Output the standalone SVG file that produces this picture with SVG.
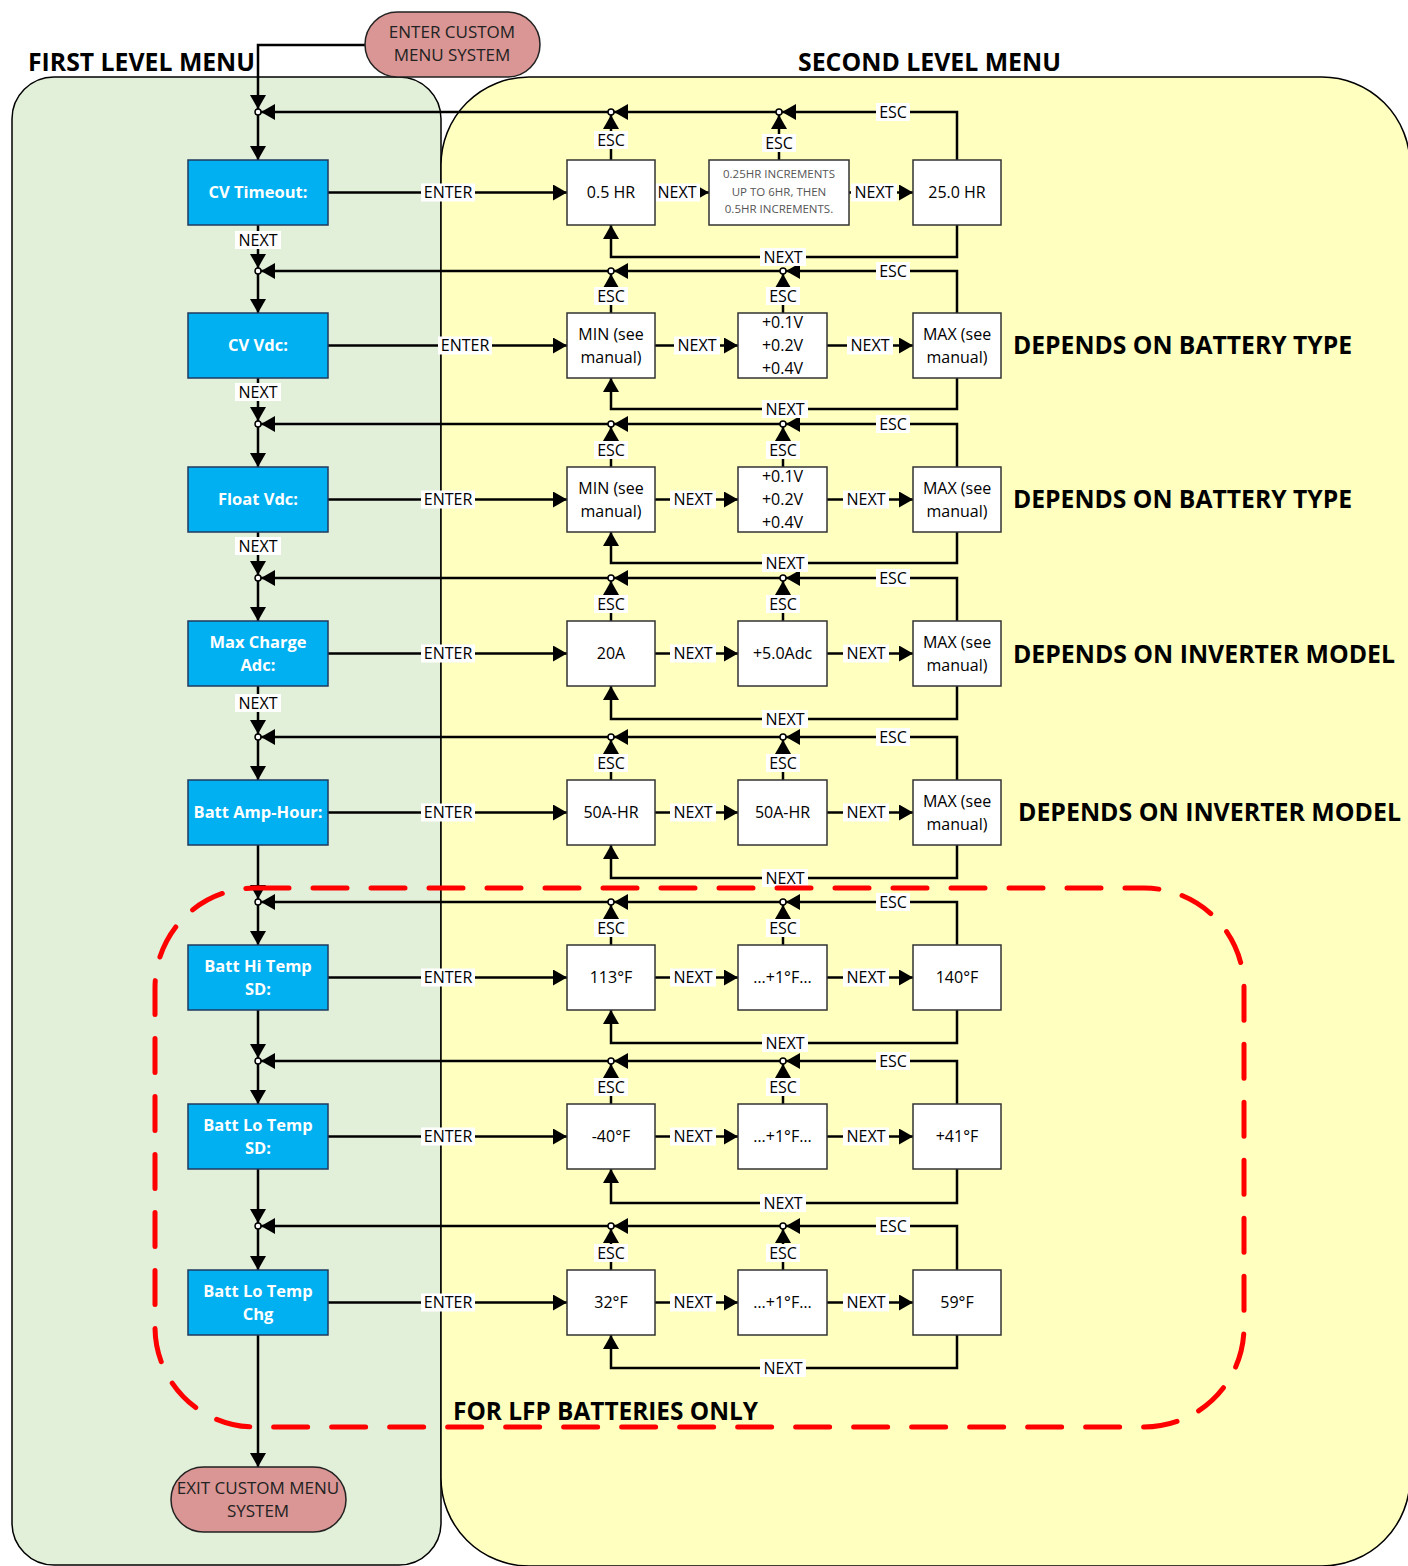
<svg xmlns="http://www.w3.org/2000/svg" width="1408" height="1566" viewBox="0 0 1408 1566">
<defs>
<marker id="ah" viewBox="0 0 14 16" refX="14" refY="8" markerWidth="14" markerHeight="16" markerUnits="userSpaceOnUse" orient="auto"><path d="M0,0 L14,8 L0,16 z" fill="#000"/></marker>
<style>
text{font-family:"Open Sans","Liberation Sans",sans-serif}
.title{font-weight:bold;font-size:25px;fill:#000}
.blue rect{fill:#00b0f0;stroke:#1f3a5f;stroke-width:1.5}
.blue text{font-weight:bold;font-size:16.5px;fill:#fff;text-anchor:middle}
.box rect{fill:#fff;stroke:#333;stroke-width:1.5}
.box text{font-size:16px;fill:#000;text-anchor:middle}
.box text.sm{font-size:11.5px;fill:#555}
.pill rect{fill:#d99694;stroke:#222;stroke-width:1.5}
.pill text{font-size:17px;fill:#222;text-anchor:middle}
.ln{fill:none;stroke:#000;stroke-width:2.5;marker-end:url(#ah)}
.jn{fill:#fff;stroke:#000;stroke-width:1.5}
.lb rect{fill:#fff}
.lb text{font-size:16px;text-anchor:middle;fill:#000}
</style>
</defs>
<rect width="1408" height="1566" fill="#fff"/>
<g id="panels">
<rect x="12" y="77" width="429" height="1488" rx="42" fill="#e2efd9" stroke="#000" stroke-width="1.5"/>
<rect x="441" y="77" width="969" height="1489" rx="88" fill="#ffffbf" stroke="#000" stroke-width="1.5"/>
</g>
<g id="titles">
<text class="title" x="28" y="71" textLength="227" lengthAdjust="spacingAndGlyphs">FIRST LEVEL MENU</text>
<text class="title" x="798" y="71" textLength="263" lengthAdjust="spacingAndGlyphs">SECOND LEVEL MENU</text>
<text class="title" x="1013" y="354" textLength="339" lengthAdjust="spacingAndGlyphs">DEPENDS ON BATTERY TYPE</text>
<text class="title" x="1013" y="508" textLength="339" lengthAdjust="spacingAndGlyphs">DEPENDS ON BATTERY TYPE</text>
<text class="title" x="1013" y="663" textLength="382" lengthAdjust="spacingAndGlyphs">DEPENDS ON INVERTER MODEL</text>
<text class="title" x="1018" y="821" textLength="383" lengthAdjust="spacingAndGlyphs">DEPENDS ON INVERTER MODEL</text>
<text class="title" x="453" y="1420" textLength="305" lengthAdjust="spacingAndGlyphs">FOR LFP BATTERIES ONLY</text>
</g>
<g id="connectors">
<path class="ln" d="M365,45 H258 V109"/>
<!-- row 1 -->
<path class="ln" d="M258,115 V160"/>
<path class="ln" d="M328,192.5 H567"/>
<path class="ln" d="M655,192.5 H709"/>
<path class="ln" d="M849,192.5 H913"/>
<path class="ln" d="M611,160 V115"/>
<path class="ln" d="M779,160 V115"/>
<path class="ln" d="M957,160 V112 H782"/>
<path class="ln" d="M776,112 H614"/>
<path class="ln" d="M608,112 H261"/>
<path class="ln" d="M957,225 V257 H611 V225"/>
<path class="ln" d="M258,225 V268"/>
<!-- row 2 -->
<path class="ln" d="M258,274 V313"/>
<path class="ln" d="M328,345.5 H567"/>
<path class="ln" d="M655,345.5 H738"/>
<path class="ln" d="M827,345.5 H913"/>
<path class="ln" d="M611,313 V274"/>
<path class="ln" d="M783,313 V274"/>
<path class="ln" d="M957,313 V271 H786"/>
<path class="ln" d="M780,271 H614"/>
<path class="ln" d="M608,271 H261"/>
<path class="ln" d="M957,378 V409 H611 V378"/>
<path class="ln" d="M258,378 V421"/>
<!-- row 3 -->
<path class="ln" d="M258,427 V467"/>
<path class="ln" d="M328,499.5 H567"/>
<path class="ln" d="M655,499.5 H738"/>
<path class="ln" d="M827,499.5 H913"/>
<path class="ln" d="M611,467 V427"/>
<path class="ln" d="M783,467 V427"/>
<path class="ln" d="M957,467 V424 H786"/>
<path class="ln" d="M780,424 H614"/>
<path class="ln" d="M608,424 H261"/>
<path class="ln" d="M957,532 V563 H611 V532"/>
<path class="ln" d="M258,532 V575"/>
<!-- row 4 -->
<path class="ln" d="M258,581 V621"/>
<path class="ln" d="M328,653.5 H567"/>
<path class="ln" d="M655,653.5 H738"/>
<path class="ln" d="M827,653.5 H913"/>
<path class="ln" d="M611,621 V581"/>
<path class="ln" d="M783,621 V581"/>
<path class="ln" d="M957,621 V578 H786"/>
<path class="ln" d="M780,578 H614"/>
<path class="ln" d="M608,578 H261"/>
<path class="ln" d="M957,686 V719 H611 V686"/>
<path class="ln" d="M258,686 V734"/>
<!-- row 5 -->
<path class="ln" d="M258,740 V780"/>
<path class="ln" d="M328,812.5 H567"/>
<path class="ln" d="M655,812.5 H738"/>
<path class="ln" d="M827,812.5 H913"/>
<path class="ln" d="M611,780 V740"/>
<path class="ln" d="M783,780 V740"/>
<path class="ln" d="M957,780 V737 H786"/>
<path class="ln" d="M780,737 H614"/>
<path class="ln" d="M608,737 H261"/>
<path class="ln" d="M957,845 V878 H611 V845"/>
<path class="ln" d="M258,845 V899"/>
<!-- row 6 -->
<path class="ln" d="M258,905 V945"/>
<path class="ln" d="M328,977.5 H567"/>
<path class="ln" d="M655,977.5 H738"/>
<path class="ln" d="M827,977.5 H913"/>
<path class="ln" d="M611,945 V905"/>
<path class="ln" d="M783,945 V905"/>
<path class="ln" d="M957,945 V902 H786"/>
<path class="ln" d="M780,902 H614"/>
<path class="ln" d="M608,902 H261"/>
<path class="ln" d="M957,1010 V1043 H611 V1010"/>
<path class="ln" d="M258,1010 V1058"/>
<!-- row 7 -->
<path class="ln" d="M258,1064 V1104"/>
<path class="ln" d="M328,1136.5 H567"/>
<path class="ln" d="M655,1136.5 H738"/>
<path class="ln" d="M827,1136.5 H913"/>
<path class="ln" d="M611,1104 V1064"/>
<path class="ln" d="M783,1104 V1064"/>
<path class="ln" d="M957,1104 V1061 H786"/>
<path class="ln" d="M780,1061 H614"/>
<path class="ln" d="M608,1061 H261"/>
<path class="ln" d="M957,1169 V1203 H611 V1169"/>
<path class="ln" d="M258,1169 V1223"/>
<!-- row 8 -->
<path class="ln" d="M258,1229 V1270"/>
<path class="ln" d="M328,1302.5 H567"/>
<path class="ln" d="M655,1302.5 H738"/>
<path class="ln" d="M827,1302.5 H913"/>
<path class="ln" d="M611,1270 V1229"/>
<path class="ln" d="M783,1270 V1229"/>
<path class="ln" d="M957,1270 V1226 H786"/>
<path class="ln" d="M780,1226 H614"/>
<path class="ln" d="M608,1226 H261"/>
<path class="ln" d="M957,1335 V1368 H611 V1335"/>
<path class="ln" d="M258,1335 V1467"/>
<!-- junctions -->
<circle class="jn" cx="258" cy="112" r="3"/><circle class="jn" cx="611" cy="112" r="3"/><circle class="jn" cx="779" cy="112" r="3"/>
<circle class="jn" cx="258" cy="271" r="3"/><circle class="jn" cx="611" cy="271" r="3"/><circle class="jn" cx="783" cy="271" r="3"/>
<circle class="jn" cx="258" cy="424" r="3"/><circle class="jn" cx="611" cy="424" r="3"/><circle class="jn" cx="783" cy="424" r="3"/>
<circle class="jn" cx="258" cy="578" r="3"/><circle class="jn" cx="611" cy="578" r="3"/><circle class="jn" cx="783" cy="578" r="3"/>
<circle class="jn" cx="258" cy="737" r="3"/><circle class="jn" cx="611" cy="737" r="3"/><circle class="jn" cx="783" cy="737" r="3"/>
<circle class="jn" cx="258" cy="902" r="3"/><circle class="jn" cx="611" cy="902" r="3"/><circle class="jn" cx="783" cy="902" r="3"/>
<circle class="jn" cx="258" cy="1061" r="3"/><circle class="jn" cx="611" cy="1061" r="3"/><circle class="jn" cx="783" cy="1061" r="3"/>
<circle class="jn" cx="258" cy="1226" r="3"/><circle class="jn" cx="611" cy="1226" r="3"/><circle class="jn" cx="783" cy="1226" r="3"/>
<!-- labels -->
<g class="lb">
<rect x="421" y="183.5" width="54" height="18"/><text x="448" y="198">ENTER</text>
<rect x="654" y="183.5" width="46" height="18"/><text x="677" y="198">NEXT</text>
<rect x="851" y="183.5" width="46" height="18"/><text x="874" y="198">NEXT</text>
<rect x="876" y="103" width="34" height="18"/><text x="893" y="117.5">ESC</text>
<rect x="594" y="131" width="34" height="18"/><text x="611" y="145.5">ESC</text>
<rect x="762" y="134" width="34" height="18"/><text x="779" y="148.5">ESC</text>
<rect x="760" y="248" width="46" height="18"/><text x="783" y="262.5">NEXT</text>
<rect x="235" y="231" width="46" height="18"/><text x="258" y="245.5">NEXT</text>

<rect x="438" y="336.5" width="54" height="18"/><text x="465" y="351">ENTER</text>
<rect x="674" y="336.5" width="46" height="18"/><text x="697" y="351">NEXT</text>
<rect x="847" y="336.5" width="46" height="18"/><text x="870" y="351">NEXT</text>
<rect x="876" y="262" width="34" height="18"/><text x="893" y="276.5">ESC</text>
<rect x="594" y="287" width="34" height="18"/><text x="611" y="301.5">ESC</text>
<rect x="766" y="287" width="34" height="18"/><text x="783" y="301.5">ESC</text>
<rect x="762" y="400" width="46" height="18"/><text x="785" y="414.5">NEXT</text>
<rect x="235" y="383" width="46" height="18"/><text x="258" y="397.5">NEXT</text>

<rect x="421" y="490.5" width="54" height="18"/><text x="448" y="505">ENTER</text>
<rect x="670" y="490.5" width="46" height="18"/><text x="693" y="505">NEXT</text>
<rect x="843" y="490.5" width="46" height="18"/><text x="866" y="505">NEXT</text>
<rect x="876" y="415" width="34" height="18"/><text x="893" y="429.5">ESC</text>
<rect x="594" y="441" width="34" height="18"/><text x="611" y="455.5">ESC</text>
<rect x="766" y="441" width="34" height="18"/><text x="783" y="455.5">ESC</text>
<rect x="762" y="554" width="46" height="18"/><text x="785" y="568.5">NEXT</text>
<rect x="235" y="537" width="46" height="18"/><text x="258" y="551.5">NEXT</text>

<rect x="421" y="644.5" width="54" height="18"/><text x="448" y="659">ENTER</text>
<rect x="670" y="644.5" width="46" height="18"/><text x="693" y="659">NEXT</text>
<rect x="843" y="644.5" width="46" height="18"/><text x="866" y="659">NEXT</text>
<rect x="876" y="569" width="34" height="18"/><text x="893" y="583.5">ESC</text>
<rect x="594" y="595" width="34" height="18"/><text x="611" y="609.5">ESC</text>
<rect x="766" y="595" width="34" height="18"/><text x="783" y="609.5">ESC</text>
<rect x="762" y="710" width="46" height="18"/><text x="785" y="724.5">NEXT</text>
<rect x="235" y="694" width="46" height="18"/><text x="258" y="708.5">NEXT</text>

<rect x="421" y="803.5" width="54" height="18"/><text x="448" y="818">ENTER</text>
<rect x="670" y="803.5" width="46" height="18"/><text x="693" y="818">NEXT</text>
<rect x="843" y="803.5" width="46" height="18"/><text x="866" y="818">NEXT</text>
<rect x="876" y="728" width="34" height="18"/><text x="893" y="742.5">ESC</text>
<rect x="594" y="754" width="34" height="18"/><text x="611" y="768.5">ESC</text>
<rect x="766" y="754" width="34" height="18"/><text x="783" y="768.5">ESC</text>
<rect x="762" y="869" width="46" height="18"/><text x="785" y="883.5">NEXT</text>

<rect x="421" y="968.5" width="54" height="18"/><text x="448" y="983">ENTER</text>
<rect x="670" y="968.5" width="46" height="18"/><text x="693" y="983">NEXT</text>
<rect x="843" y="968.5" width="46" height="18"/><text x="866" y="983">NEXT</text>
<rect x="876" y="893" width="34" height="18"/><text x="893" y="907.5">ESC</text>
<rect x="594" y="919" width="34" height="18"/><text x="611" y="933.5">ESC</text>
<rect x="766" y="919" width="34" height="18"/><text x="783" y="933.5">ESC</text>
<rect x="762" y="1034" width="46" height="18"/><text x="785" y="1048.5">NEXT</text>

<rect x="421" y="1127.5" width="54" height="18"/><text x="448" y="1142">ENTER</text>
<rect x="670" y="1127.5" width="46" height="18"/><text x="693" y="1142">NEXT</text>
<rect x="843" y="1127.5" width="46" height="18"/><text x="866" y="1142">NEXT</text>
<rect x="876" y="1052" width="34" height="18"/><text x="893" y="1066.5">ESC</text>
<rect x="594" y="1078" width="34" height="18"/><text x="611" y="1092.5">ESC</text>
<rect x="766" y="1078" width="34" height="18"/><text x="783" y="1092.5">ESC</text>
<rect x="760" y="1194" width="46" height="18"/><text x="783" y="1208.5">NEXT</text>

<rect x="421" y="1293.5" width="54" height="18"/><text x="448" y="1308">ENTER</text>
<rect x="670" y="1293.5" width="46" height="18"/><text x="693" y="1308">NEXT</text>
<rect x="843" y="1293.5" width="46" height="18"/><text x="866" y="1308">NEXT</text>
<rect x="876" y="1217" width="34" height="18"/><text x="893" y="1231.5">ESC</text>
<rect x="594" y="1244" width="34" height="18"/><text x="611" y="1258.5">ESC</text>
<rect x="766" y="1244" width="34" height="18"/><text x="783" y="1258.5">ESC</text>
<rect x="760" y="1359" width="46" height="18"/><text x="783" y="1373.5">NEXT</text>
</g>
</g>
<g id="pill-enter" class="pill"><rect x="365" y="12" width="175" height="65" rx="32.5"/><text x="452" y="38">ENTER CUSTOM</text><text x="452" y="61">MENU SYSTEM</text></g>
<g id="pill-exit" class="pill"><rect x="171" y="1467" width="175" height="65" rx="32.5"/><text x="258" y="1494">EXIT CUSTOM MENU</text><text x="258" y="1517">SYSTEM</text></g>
<g id="m1" class="blue"><rect x="188" y="160" width="140" height="65"/><text x="258" y="198">CV Timeout:</text></g>
<g id="m2" class="blue"><rect x="188" y="313" width="140" height="65"/><text x="258" y="351">CV Vdc:</text></g>
<g id="m3" class="blue"><rect x="188" y="467" width="140" height="65"/><text x="258" y="505">Float Vdc:</text></g>
<g id="m4" class="blue"><rect x="188" y="621" width="140" height="65"/><text x="258" y="648">Max Charge</text><text x="258" y="671">Adc:</text></g>
<g id="m5" class="blue"><rect x="188" y="780" width="140" height="65"/><text x="258" y="818">Batt Amp-Hour:</text></g>
<g id="m6" class="blue"><rect x="188" y="945" width="140" height="65"/><text x="258" y="972">Batt Hi Temp</text><text x="258" y="995">SD:</text></g>
<g id="m7" class="blue"><rect x="188" y="1104" width="140" height="65"/><text x="258" y="1131">Batt Lo Temp</text><text x="258" y="1154">SD:</text></g>
<g id="m8" class="blue"><rect x="188" y="1270" width="140" height="65"/><text x="258" y="1297">Batt Lo Temp</text><text x="258" y="1320">Chg</text></g>

<g id="r1a" class="box"><rect x="567" y="160" width="88" height="65"/><text x="611" y="198">0.5 HR</text></g>
<g id="r1b" class="box"><rect x="709" y="160" width="140" height="65"/><text class="sm" x="779" y="178">0.25HR INCREMENTS</text><text class="sm" x="779" y="196">UP TO 6HR, THEN</text><text class="sm" x="779" y="213">0.5HR INCREMENTS.</text></g>
<g id="r1c" class="box"><rect x="913" y="160" width="88" height="65"/><text x="957" y="198">25.0 HR</text></g>

<g id="r2a" class="box"><rect x="567" y="313" width="88" height="65"/><text x="611" y="340">MIN (see</text><text x="611" y="363">manual)</text></g>
<g id="r2b" class="box"><rect x="738" y="313" width="89" height="65"/><text x="782.5" y="328">+0.1V</text><text x="782.5" y="351">+0.2V</text><text x="782.5" y="374">+0.4V</text></g>
<g id="r2c" class="box"><rect x="913" y="313" width="88" height="65"/><text x="957" y="340">MAX (see</text><text x="957" y="363">manual)</text></g>

<g id="r3a" class="box"><rect x="567" y="467" width="88" height="65"/><text x="611" y="494">MIN (see</text><text x="611" y="517">manual)</text></g>
<g id="r3b" class="box"><rect x="738" y="467" width="89" height="65"/><text x="782.5" y="482">+0.1V</text><text x="782.5" y="505">+0.2V</text><text x="782.5" y="528">+0.4V</text></g>
<g id="r3c" class="box"><rect x="913" y="467" width="88" height="65"/><text x="957" y="494">MAX (see</text><text x="957" y="517">manual)</text></g>

<g id="r4a" class="box"><rect x="567" y="621" width="88" height="65"/><text x="611" y="659">20A</text></g>
<g id="r4b" class="box"><rect x="738" y="621" width="89" height="65"/><text x="782.5" y="659">+5.0Adc</text></g>
<g id="r4c" class="box"><rect x="913" y="621" width="88" height="65"/><text x="957" y="648">MAX (see</text><text x="957" y="671">manual)</text></g>

<g id="r5a" class="box"><rect x="567" y="780" width="88" height="65"/><text x="611" y="818">50A-HR</text></g>
<g id="r5b" class="box"><rect x="738" y="780" width="89" height="65"/><text x="782.5" y="818">50A-HR</text></g>
<g id="r5c" class="box"><rect x="913" y="780" width="88" height="65"/><text x="957" y="807">MAX (see</text><text x="957" y="830">manual)</text></g>

<g id="r6a" class="box"><rect x="567" y="945" width="88" height="65"/><text x="611" y="983">113°F</text></g>
<g id="r6b" class="box"><rect x="738" y="945" width="89" height="65"/><text x="782.5" y="983">…+1°F…</text></g>
<g id="r6c" class="box"><rect x="913" y="945" width="88" height="65"/><text x="957" y="983">140°F</text></g>

<g id="r7a" class="box"><rect x="567" y="1104" width="88" height="65"/><text x="611" y="1142">-40°F</text></g>
<g id="r7b" class="box"><rect x="738" y="1104" width="89" height="65"/><text x="782.5" y="1142">…+1°F…</text></g>
<g id="r7c" class="box"><rect x="913" y="1104" width="88" height="65"/><text x="957" y="1142">+41°F</text></g>

<g id="r8a" class="box"><rect x="567" y="1270" width="88" height="65"/><text x="611" y="1308">32°F</text></g>
<g id="r8b" class="box"><rect x="738" y="1270" width="89" height="65"/><text x="782.5" y="1308">…+1°F…</text></g>
<g id="r8c" class="box"><rect x="913" y="1270" width="88" height="65"/><text x="957" y="1308">59°F</text></g>

<g id="lfp-region"><rect x="155" y="888" width="1089" height="539" rx="100" fill="none" stroke="#ff0000" stroke-width="5" stroke-dasharray="34 24" stroke-linecap="round"/></g>
</svg>
